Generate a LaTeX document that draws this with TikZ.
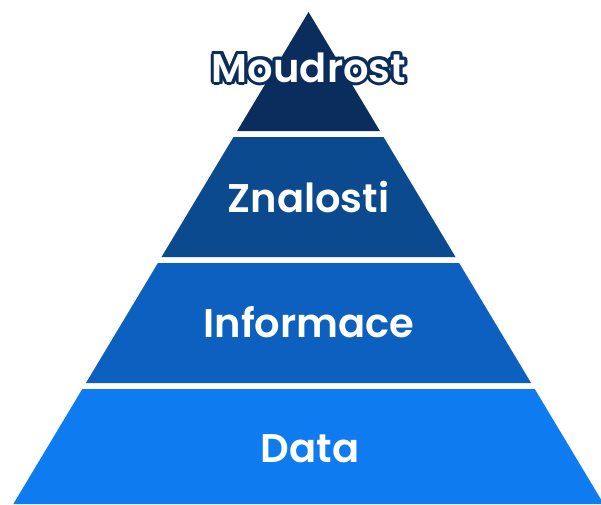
\documentclass[tikz,border=0pt]{standalone}
\usepackage{fontspec}
\usetikzlibrary{calc}
\setmainfont{Poppins}[BoldFont={Poppins SemiBold}]
\definecolor{tierA}{HTML}{0A2D5E}
\definecolor{tierB}{HTML}{0B4A8F}
\definecolor{tierC}{HTML}{0C60C0}
\definecolor{tierD}{HTML}{0F7BF0}
\begin{document}
\begin{tikzpicture}[x=1pt,y=-1pt,
  label/.style={text=white,font=\bfseries\fontsize{40}{40}\selectfont,anchor=base,inner sep=0pt},
  rim/.style={text=tierA,font=\bfseries\fontsize{40}{40}\selectfont,anchor=base,inner sep=0pt}]
\useasboundingbox (0,0) rectangle (601,504);
% pyramid tiers, apex at (308.5,12), half-width grows 0.6 per unit
\fill[tierA] (308.5,12) -- (379.9,131) -- (237.1,131) -- cycle;
\fill[tierB] (233.5,137) -- (383.5,137) -- (455.5,257) -- (161.5,257) -- cycle;
\fill[tierC] (157.9,263) -- (459.1,263) -- (531.1,383) -- (85.9,383) -- cycle;
\fill[tierD] (82.3,389) -- (534.7,389) -- (603.7,504) -- (13.3,504) -- cycle;
% outlined title on the top tier: dark copies ringed around the white one
\foreach \a in {0,22.5,...,337.5}
  \node[rim] at ($(309,82)+(\a:3)$) {Moudrost};
\node[label] (top) at (309,82) {Moudrost};
\node[label] (know) at (308.5,212) {Znalosti};
\node[label] (info) at (309,337) {Informace};
\node[label] (data) at (310,462) {Data};
\end{tikzpicture}
\end{document}
